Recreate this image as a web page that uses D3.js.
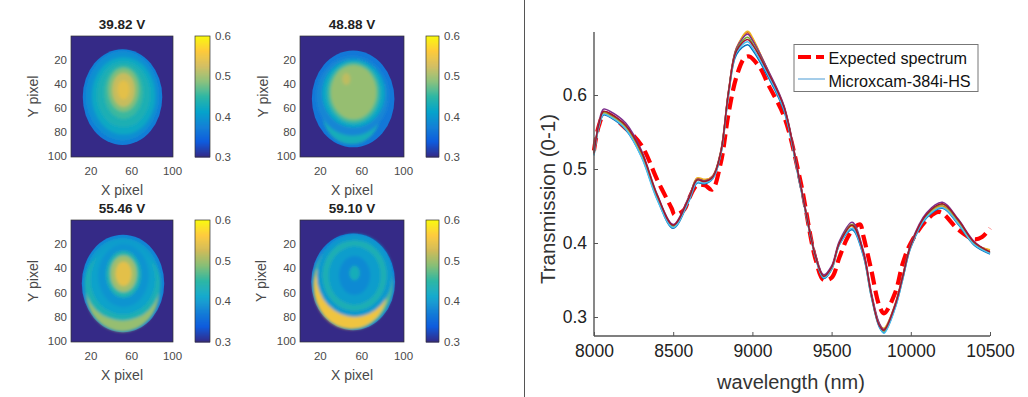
<!DOCTYPE html>
<html>
<head>
<meta charset="utf-8">
<script src="https://cdn.jsdelivr.net/npm/d3@7"></script>
<style>
  html, body { margin: 0; padding: 0; background: #fff; }
  svg { display: block; font-family: "Liberation Sans", Arial, sans-serif; }
</style>
</head>
<body>
<script>
// ********************************** //
// ** Data
// ********************************** //
const wavelengths = [8000, 8030, 8060, 8100, 8200, 8300, 8400, 8500, 8600, 8650, 8700, 8750, 8800, 8850, 8900, 8970, 9000, 9100, 9200, 9300, 9400, 9450, 9500, 9550, 9630, 9700, 9750, 9800, 9830, 9900, 9950, 10000, 10100, 10200, 10300, 10400, 10500];

const camBlue =   [.519, .556, .573, .570, .553, .517, .459, .420, .457, .481, .480, .487, .519, .601, .655, .668, .661, .624, .578, .479, .379, .352, .364, .398, .418, .383, .328, .287, .279, .312, .352, .394, .434, .447, .425, .397, .385];
const camOrange = [.521, .559, .576, .573, .557, .521, .463, .424, .462, .487, .485, .491, .524, .607, .664, .684, .676, .632, .584, .483, .382, .355, .367, .401, .425, .388, .332, .291, .284, .317, .357, .398, .438, .450, .428, .400, .390];
const camYellow = [.520, .558, .575, .572, .556, .520, .462, .422, .460, .488, .486, .490, .521, .604, .662, .686, .678, .631, .583, .482, .381, .354, .365, .399, .423, .387, .331, .290, .285, .316, .355, .396, .437, .449, .427, .399, .391];
const camPurple = [.522, .562, .581, .578, .562, .525, .465, .425, .463, .486, .484, .490, .523, .606, .663, .682, .674, .633, .585, .484, .383, .357, .369, .403, .428, .390, .334, .292, .283, .316, .356, .399, .441, .455, .432, .402, .387];
const camGreen =  [.520, .559, .577, .574, .558, .522, .463, .423, .461, .485, .483, .489, .522, .605, .661, .678, .670, .630, .582, .481, .381, .354, .366, .400, .425, .386, .330, .289, .281, .314, .354, .397, .438, .452, .430, .400, .387];
const camCyan =   [.518, .557, .574, .571, .554, .516, .458, .421, .458, .482, .481, .487, .520, .602, .658, .672, .664, .627, .580, .480, .380, .353, .365, .398, .420, .384, .329, .288, .278, .311, .352, .395, .435, .448, .426, .398, .386];
const camRed =    [.521, .560, .578, .575, .559, .523, .464, .424, .461, .485, .483, .489, .522, .605, .660, .675, .668, .630, .583, .482, .381, .355, .367, .400, .424, .387, .331, .289, .282, .315, .355, .397, .439, .453, .431, .401, .388];
const camSeries = [camBlue, camOrange, camYellow, camPurple, camGreen, camCyan, camRed];
const camColors = ["#0072bd", "#d95319", "#edb120", "#7e2f8e", "#77ac30", "#4dbeee", "#a2142f"];

const expectedWl = [8000, 8030, 8070, 8200, 8300, 8400, 8490, 8510, 8570, 8600, 8650, 8700, 8745, 8800, 8850, 8900, 8950, 8980, 9050, 9100, 9200, 9300, 9400, 9450, 9500, 9550, 9600, 9650, 9680, 9700, 9750, 9800, 9830, 9900, 9950, 10000, 10100, 10180, 10300, 10400, 10450, 10500];
const expectedVals = [.525, .558, .575, .555, .532, .485, .447, .438, .445, .460, .478, .478, .472, .508, .576, .625, .650, .652, .636, .614, .571, .487, .377, .350, .353, .381, .407, .422, .425, .410, .364, .316, .305, .332, .373, .400, .431, .442, .418, .405, .408, .420];

const legendLabels = ["Expected spectrum", "Microxcam-384i-HS"];
const specXTicks = [8000, 8500, 9000, 9500, 10000, 10500];
const specYTicks = [0.3, 0.4, 0.5, 0.6];

// heat map regions, outer first: [x, y, xRadius, yRadius, transmission]
const bands39 = [[51, 51, 39, 39.5, .37], [51, 50, 36, 37, .39], [52, 50, 31, 32, .42], [52, 49, 26, 27, .435], [52, 47, 19, 22, .455], [52, 45, 15, 18, .485], [52, 45, 11, 14, .52], [52, 45, 6, 8, .54]];
const bands48 = [[51.6, 52.5, 39.7, 40, .365], [50, 64, 28, 26, .43], [51, 50, 35, 33, .38], [52, 48, 30, 28, .42], [52, 47.5, 25, 25, .46], [52, 47, 22, 22.5, .495], [45, 36, 4, 5, .515]];
const bands55 = [[51.5, 52.5, 40.4, 40, .375], [51, 53, 38, 38, .405], [51, 59, 36, 33, .495], [51, 53, 37, 30, .435], [51.5, 49, 32, 29, .41], [52, 46, 25, 26, .395], [52, 45, 17, 19, .44], [52, 44.6, 13, 15, .5], [52, 44.6, 8, 10, .54]];
const bands59 = [[51.6, 51.2, 40.3, 39.7, .37], [51.6, 52, 38.5, 38, .46], [49.5, 55, 36, 35, .55], [53, 46, 36.5, 34, .4], [53, 46, 31, 29, .435], [53, 46, 25, 24, .405], [53, 46, 15, 16, .385], [53, 44, 5, 6, .43]];
const panelBands = [bands39, bands48, bands55, bands59];
const panelTitles = ["39.82 V", "48.88 V", "55.46 V", "59.10 V"];
const heatTicksY = [20, 40, 60, 80, 100];
const heatTicksX = [20, 60, 100];
const barTicks = [0.3, 0.4, 0.5, 0.6];
const parulaStops = ["#352a87", "#0f5cdd", "#1481d6", "#06a4ca", "#2eb7a4", "#87bf77", "#d1bb59", "#fec832", "#f9fb0e"];

// ********************************** //
// ** Setup
// ********************************** //
const svg = d3.select("body").append("svg").attr("width", 1028).attr("height", 397);
svg.append("defs").append("filter").attr("id", "soft")
  .attr("x", "-10%").attr("y", "-10%").attr("width", "120%").attr("height", "120%")
  .append("feGaussianBlur").attr("stdDeviation", 1.8);

const parula = d3.scaleLinear()
  .domain(parulaStops.map((d, i) => 0.3 + 0.3 * i / (parulaStops.length - 1)))
  .range(parulaStops)
  .clamp(true);

// ********************************** //
// ** Heat maps
// ********************************** //
const layouts = [
  { left: 71, right: 173, top: 36, bottom: 157, barL: 195, barR: 210, ylab: 33 },
  { left: 300, right: 404, top: 36, bottom: 157, barL: 426, barR: 439, ylab: 263 },
  { left: 71, right: 173, top: 220, bottom: 342, barL: 195, barR: 210, ylab: 33 },
  { left: 300, right: 404, top: 220, bottom: 342, barL: 426, barR: 439, ylab: 261 }
];

function drawHeat(g, L, bands, title) {
  const x = d3.scaleLinear().domain([0.5, 100.5]).range([L.left, L.right]);
  const y = d3.scaleLinear().domain([0.5, 100.5]).range([L.top, L.bottom]);
  const ink = "#4a4a4a";

  g.append("rect")
    .attr("x", L.left).attr("y", L.top)
    .attr("width", L.right - L.left).attr("height", L.bottom - L.top)
    .attr("fill", parula(0.3));

  const ell = (sel) => sel
    .attr("cx", d => x(d[0]))
    .attr("cy", d => y(d[1]))
    .attr("rx", d => x(d[0] + d[2]) - x(d[0]))
    .attr("ry", d => y(d[1] + d[3]) - y(d[1]))
    .attr("fill", d => parula(d[4]));

  g.selectAll("ellipse.edge").data(bands.slice(0, 1)).join("ellipse").attr("class", "edge").call(ell);
  g.append("g").attr("filter", "url(#soft)")
    .selectAll("ellipse").data(bands.slice(1)).join("ellipse").call(ell);

  // frame and ticks
  g.append("rect")
    .attr("x", L.left).attr("y", L.top)
    .attr("width", L.right - L.left).attr("height", L.bottom - L.top)
    .attr("fill", "none").attr("stroke", "#333").attr("stroke-width", 0.7);

  g.selectAll("text.xt").data(heatTicksX).join("text").attr("class", "xt")
    .attr("x", d => x(d)).attr("y", L.bottom + 18)
    .attr("text-anchor", "middle").attr("font-size", 11.5).attr("fill", ink).text(d => d);
  g.selectAll("text.yt").data(heatTicksY).join("text").attr("class", "yt")
    .attr("x", L.left - 4).attr("y", d => y(d) + 4)
    .attr("text-anchor", "end").attr("font-size", 11.5).attr("fill", ink).text(d => d);

  const midX = (L.left + L.right) / 2;
  g.append("text").attr("x", midX).attr("y", L.top - 7)
    .attr("text-anchor", "middle").attr("font-size", 13.5).attr("font-weight", "bold").attr("fill", "#222").text(title);
  g.append("text").attr("x", midX).attr("y", L.bottom + 38)
    .attr("text-anchor", "middle").attr("font-size", 14).attr("fill", ink).text("X pixel");
  g.append("text").attr("transform", `translate(${L.ylab + 5},${(L.top + L.bottom) / 2}) rotate(-90)`)
    .attr("text-anchor", "middle").attr("font-size", 14).attr("fill", ink).text("Y pixel");

  // colour bar
  const c = d3.scaleLinear().domain([0.3, 0.6]).range([L.bottom, L.top]);
  g.selectAll("rect.bar").data(d3.range(0.3, 0.6, 0.0025)).join("rect").attr("class", "bar")
    .attr("x", L.barL).attr("width", L.barR - L.barL)
    .attr("y", d => c(d + 0.0025))
    .attr("height", d => c(d) - c(d + 0.0025) + 0.5)
    .attr("fill", d => parula(d));
  g.append("rect")
    .attr("x", L.barL).attr("y", L.top)
    .attr("width", L.barR - L.barL).attr("height", L.bottom - L.top)
    .attr("fill", "none").attr("stroke", "#333").attr("stroke-width", 0.7);
  g.selectAll("text.bt").data(barTicks).join("text").attr("class", "bt")
    .attr("x", L.barR + 5).attr("y", d => c(d) + 4)
    .attr("font-size", 11.5).attr("fill", ink).text(d => d.toFixed(1));
}

panelBands.forEach((bands, i) => drawHeat(svg.append("g"), layouts[i], bands, panelTitles[i]));

// divider between the two figures
svg.append("line").attr("x1", 524.5).attr("x2", 524.5).attr("y1", 0).attr("y2", 397)
  .attr("stroke", "#555").attr("stroke-width", 1);

// ********************************** //
// ** Spectrum
// ********************************** //
const specX = d3.scaleLinear().domain([8000, 10500]).range([594, 990]);
const specY = d3.scaleLinear().domain([0.3, 0.6]).range([317, 95]);
const specTop = 32;
const specBottom = 336;

const lineGen = d3.line()
  .x(d => specX(d[0]))
  .y(d => specY(d[1]))
  .curve(d3.curveCatmullRom.alpha(0.5));

const spec = svg.append("g");

spec.append("path")
  .attr("d", lineGen(expectedWl.map((w, i) => [w, expectedVals[i]])))
  .attr("fill", "none").attr("stroke", "#ff0000").attr("stroke-width", 4.2)
  .attr("stroke-dasharray", "13,6");

spec.selectAll("path.cam").data(camSeries).join("path").attr("class", "cam")
  .attr("d", s => lineGen(wavelengths.map((w, i) => [w, s[i]])))
  .attr("fill", "none")
  .attr("stroke", (s, i) => camColors[i])
  .attr("stroke-width", 1.5);

const axisInk = "#555";
const xAxis = d3.axisBottom(specX).tickValues(specXTicks).tickFormat(d3.format("d")).tickSize(-4).tickPadding(9);
const yAxis = d3.axisLeft(specY).tickValues(specYTicks).tickFormat(d3.format(".1f")).tickSize(-4).tickPadding(7);

const gx = spec.append("g").attr("transform", `translate(0,${specBottom})`).call(xAxis);
const gy = spec.append("g").attr("transform", "translate(594,0)").call(yAxis);
[gx, gy].forEach(a => {
  a.select(".domain").remove();
  a.selectAll("line").attr("stroke", axisInk);
  a.selectAll("text").attr("font-size", 17.5).attr("font-family", "Liberation Sans").attr("fill", "#222");
});
spec.append("line").attr("x1", 594).attr("x2", 990).attr("y1", specBottom).attr("y2", specBottom)
  .attr("stroke", axisInk).attr("stroke-width", 1.4);
spec.append("line").attr("x1", 594).attr("x2", 594).attr("y1", specTop).attr("y2", specBottom)
  .attr("stroke", axisInk).attr("stroke-width", 1.4);

spec.append("text").attr("x", 791).attr("y", 389)
  .attr("text-anchor", "middle").attr("font-size", 20).attr("fill", "#333").text("wavelength (nm)");
spec.append("text").attr("transform", "translate(555,199) rotate(-90)")
  .attr("text-anchor", "middle").attr("font-size", 20.5).attr("fill", "#333").text("Transmission (0-1)");

// legend
const legend = spec.append("g");
legend.append("rect").attr("x", 794).attr("y", 44.5).attr("width", 184).attr("height", 47)
  .attr("fill", "#fff").attr("stroke", "#777").attr("stroke-width", 1);
legend.append("line").attr("x1", 798).attr("x2", 824).attr("y1", 57).attr("y2", 57)
  .attr("stroke", "#ff0000").attr("stroke-width", 4).attr("stroke-dasharray", "13,5");
legend.append("line").attr("x1", 798).attr("x2", 825).attr("y1", 79).attr("y2", 79)
  .attr("stroke", "#4a9bd4").attr("stroke-width", 1);
legend.selectAll("text").data(legendLabels).join("text")
  .attr("x", 828.5).attr("y", (d, i) => 64 + i * 22.5)
  .attr("font-size", 16.2).attr("fill", "#111").text(d => d);
</script>
</body>
</html>
